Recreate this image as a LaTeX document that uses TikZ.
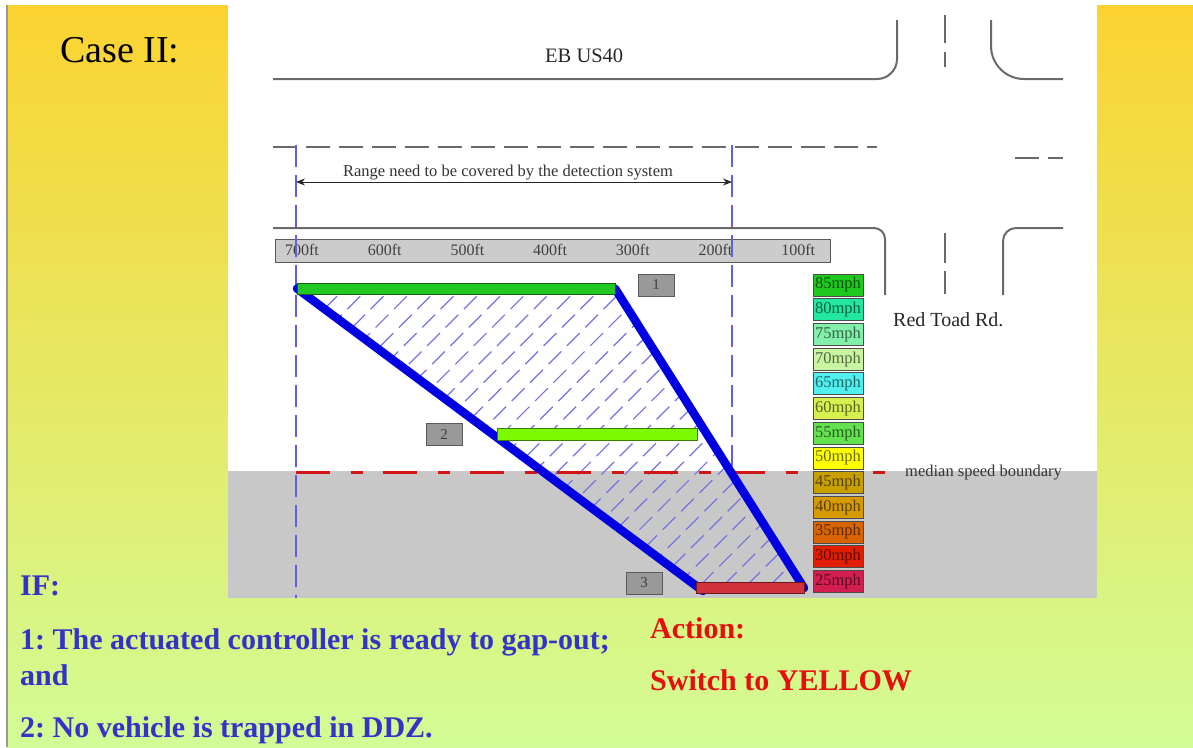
\documentclass[tikz,border=0pt]{standalone}
\usepackage{fontspec}
\setmainfont{Liberation Serif}
\usetikzlibrary{arrows.meta}
\frenchspacing
\definecolor{bgtop}{RGB}{251,211,48}
\definecolor{bgbot}{RGB}{210,252,150}
\definecolor{roadgray}{RGB}{105,105,105}
\definecolor{guideblue}{RGB}{95,95,230}
\definecolor{hatchblue}{RGB}{115,115,225}
\definecolor{thickblue}{RGB}{0,0,225}
\definecolor{medred}{RGB}{210,20,20}
\definecolor{panelgray}{RGB}{200,200,200}
\definecolor{ifblue}{RGB}{51,51,200}
\definecolor{actred}{RGB}{230,15,15}
\definecolor{barA}{RGB}{34,200,34}
\definecolor{barB}{RGB}{124,250,0}
\definecolor{barC}{RGB}{210,50,60}
\definecolor{c85}{RGB}{30,200,30}
\definecolor{c80}{RGB}{35,230,160}
\definecolor{c75}{RGB}{130,240,170}
\definecolor{c70}{RGB}{200,245,160}
\definecolor{c65}{RGB}{80,240,240}
\definecolor{c60}{RGB}{215,240,80}
\definecolor{c55}{RGB}{100,225,80}
\definecolor{c50}{RGB}{255,255,0}
\definecolor{c45}{RGB}{200,160,0}
\definecolor{c40}{RGB}{215,155,0}
\definecolor{c35}{RGB}{215,100,0}
\definecolor{c30}{RGB}{225,30,0}
\definecolor{c25}{RGB}{210,30,80}
\begin{document}
\begin{tikzpicture}[x=1pt,y=-1pt,
  road/.style={draw=roadgray, line width=2pt},
  roaddash/.style={road, dash pattern=on 24pt off 9pt},
  guide/.style={draw=guideblue, line width=1.3pt, dash pattern=on 22pt off 8pt},
  hatch/.style={draw=hatchblue, line width=1.2pt, dash pattern=on 18pt off 8pt},
  thick blue/.style={draw=thickblue, line width=8.5pt, line cap=round},
  bar/.style={draw=#1!50!black, line width=0.8pt, fill=#1, inner sep=0pt},
  numbox/.style={draw=black!65, fill=black!40, line width=0.8pt, minimum width=36pt, minimum height=22pt, inner sep=0pt, text=black!75, font=\fontsize{15}{15}\selectfont},
  spd/.style={draw=black!70, line width=0.8pt, fill=#1, text=#1!42!black, minimum width=50pt, minimum height=22pt, inner sep=0pt, font=\fontsize{16.5}{16.5}\selectfont},
  rulelbl/.style={anchor=base, text=black!75, font=\fontsize{16}{16}\selectfont, inner sep=0pt},
  diag/.style={anchor=base west, inner sep=0pt, text=black!85},
  iftext/.style={anchor=base west, inner sep=0pt, text=ifblue, font=\fontsize{30}{30}\selectfont\bfseries},
  acttext/.style={anchor=base west, inner sep=0pt, text=actred, font=\fontsize{30}{30}\selectfont\bfseries}]
\useasboundingbox (0,0) rectangle (1193,747);
% background
\fill[white] (0,0) rectangle (1193,747);
\shade[top color=bgtop, bottom color=bgbot] (7,5) rectangle (1193,747);
\draw[black!40, line width=2pt] (7,5) -- (7,747);
% panel
\fill[white] (228,0) rectangle (1097,471);
\fill[panelgray] (228,471) rectangle (1097,598);
% roads
\draw[road, rounded corners=20pt] (273,79) -- (897,79) -- (897,20);
\draw[road, rounded corners=33pt] (991,20) -- (991,79) -- (1063,79);
\draw[road, rounded corners=11pt] (273,228) -- (885,228) -- (885,295);
\draw[road, rounded corners=13pt] (1063,228) -- (1003,228) -- (1003,295);
\draw[roaddash] (273,147) -- (877,147);
\draw[roaddash] (1015,158) -- (1063,158);
\draw[road, dash pattern=on 28pt off 9pt] (945,15) -- (945,67);
\draw[road, dash pattern=on 30pt off 8pt] (945,233) -- (945,294);
\node[diag, font=\fontsize{20.5}{20.5}\selectfont] (eb) at (545,62) {EB US40};
\node[diag, font=\fontsize{20}{20}\selectfont] (rt) at (893,326) {Red Toad Rd.};
% ruler
\node[draw=black!65, fill=black!20, line width=0.8pt, minimum width=555pt, minimum height=23pt, inner sep=0pt] (ruler) at (553,250.5) {};
\foreach \t [count=\i from 0] in {700,600,500,400,300,200,100}
  \node[rulelbl] (r\t) at (302+82.7*\i,255) {\t ft};
% guide lines
\coordinate (gl1) at (296,145);
\coordinate (gl2) at (296,598);
\coordinate (gr1) at (732,145);
\coordinate (gr2) at (732,466);
\draw[guide] (gl1) -- (gl2);
\draw[guide] (gr1) -- (gr2);
\coordinate (al) at (296,182);
\coordinate (ar) at (732,182);
\draw[black!85, line width=1pt, {Stealth[length=9pt,width=7pt]}-{Stealth[length=9pt,width=7pt]}] (al) -- (ar);
\node[anchor=base, inner sep=0pt, text=black!80, font=\fontsize{16.5}{16.5}\selectfont] (range) at (508,176) {Range need to be covered by the detection system};
% hatch region
\coordinate (p1) at (297,288.5);
\coordinate (p2) at (615,288.5);
\coordinate (p3) at (804,588);
\coordinate (p4) at (703,591);
\begin{scope}
  \clip (p1) -- (p2) -- (p3) -- (p4) -- cycle;
  \foreach \i in {0,...,40}
    \draw[hatch] (-100+23.3*\i,640) -- (400+23.3*\i,140);
\end{scope}
% median line
\coordinate (m1) at (296,472);
\coordinate (m2) at (892,472);
\draw[medred, line width=3pt, dash pattern=on 34pt off 21pt on 12pt off 20pt] (m1) -- (m2);
\node[diag, text=black!80, font=\fontsize{16.5}{16.5}\selectfont] (msb) at (905,476) {median speed boundary};
% thick blue lines
\draw[thick blue] (p1) -- (p4);
\draw[thick blue] (p2) -- (p3);
% bars
\node[bar=barA, minimum width=318pt, minimum height=11pt] (bar1) at (456,288.5) {};
\node[bar=barB, minimum width=200pt, minimum height=12pt] (bar2) at (597,434.5) {};
\node[bar=barC, minimum width=108pt, minimum height=11pt] (bar3) at (750,588) {};
\node[numbox] (n1) at (656,285) {1};
\node[numbox] (n2) at (444,434.5) {2};
\node[numbox] (n3) at (644,583) {3};
% speed boxes
\foreach \s [count=\i from 0] in {85,80,75,70,65,60,55,50,45,40,35,30,25}
  \node[spd=c\s] (s\s) at (838,285+24.7*\i) {\s mph};
% texts
\node[anchor=base west, inner sep=0pt, font=\fontsize{38}{38}\selectfont] (title) at (60,62) {Case II:};
\node[iftext] (if) at (20,595) {IF:};
\node[iftext] (c1) at (20,649) {1: The actuated controller is ready to gap-out;};
\node[iftext] (c1b) at (20,685) {and};
\node[iftext] (c2) at (20,737) {2: No vehicle is trapped in DDZ.};
\node[acttext] (act) at (650,638) {Action:};
\node[acttext] (sw) at (650,690) {Switch to YELLOW};
\end{tikzpicture}
\end{document}
